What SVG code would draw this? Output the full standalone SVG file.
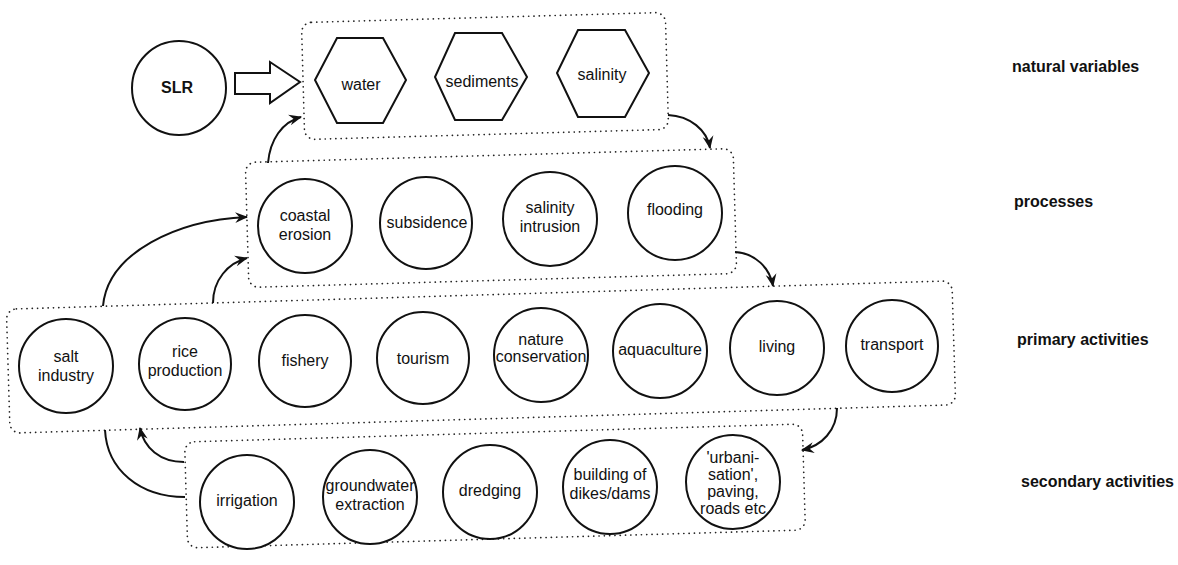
<svg xmlns="http://www.w3.org/2000/svg" width="1178" height="565" viewBox="0 0 1178 565">
<defs>
<marker id="ah" viewBox="0 0 12 12" refX="11" refY="6" markerWidth="13" markerHeight="13" markerUnits="userSpaceOnUse" orient="auto">
<path d="M0,1 L12,6 L0,11 L4,6 z" fill="#111"/>
</marker>
</defs>
<style>
.box{fill:none;stroke:#222;stroke-width:1.7;stroke-dasharray:0.1 5.2;stroke-linecap:round}
.n{fill:#fff;stroke:#111;stroke-width:2}
.t{font-family:"Liberation Sans",Arial,sans-serif;font-size:16px;fill:#111;text-anchor:middle}
.lbl{font-family:"Liberation Sans",Arial,sans-serif;font-size:16px;font-weight:bold;fill:#111}
.c{fill:none;stroke:#111;stroke-width:2}
</style>
<rect width="1178" height="565" fill="#fff"/>
<g id="boxes">
<rect id="box-natural" class="box" x="303" y="17.5" width="364" height="117" rx="10" transform="rotate(-1.6 485 76)"/>
<rect id="box-processes" class="box" x="247" y="155.5" width="488" height="125" rx="10" transform="rotate(-1.64 491 218)"/>
<rect id="box-primary" class="box" x="8" y="295" width="946" height="124" rx="10" transform="rotate(-1.72 481 357)"/>
<rect id="box-secondary" class="box" x="186" y="433" width="618" height="106" rx="10" transform="rotate(-1.67 495 486)"/>
</g>
<g id="connectors">
<polygon class="n" points="235,73 270,73 270,62 300,82 270,103 270,94 235,94"/>
<path class="c" d="M268,163 C270,140 282,122 301,117" marker-end="url(#ah)"/>
<path class="c" d="M668,115 C690,116 707,130 710,148" marker-end="url(#ah)"/>
<path class="c" d="M735,252 C755,253 770,268 773,286" marker-end="url(#ah)"/>
<path class="c" d="M103,306 C108,252 178,220 247,217" marker-end="url(#ah)"/>
<path class="c" d="M213,303 C213,280 228,263 247,258" marker-end="url(#ah)"/>
<path class="c" d="M837,408 C837,430 822,446 802,450" marker-end="url(#ah)"/>
<path class="c" d="M184,462 C160,462 144,448 140,428" marker-end="url(#ah)"/>
<path class="c" d="M185,497 C140,497 107,470 105,430"/>
</g>
<g id="SLR"><circle class="n" cx="179" cy="88" r="47"/><text class="t" x="177" y="93" font-weight="bold">SLR</text></g>
<g id="water"><polygon class="n" points="337,38 383,38 406,80 383,123 337,123 315,80"/><text class="t" x="361" y="90">water</text></g>
<g id="sediments"><polygon class="n" points="455,33 502,33 527,77 502,120 455,120 435,77"/><text class="t" x="482" y="87">sediments</text></g>
<g id="salinity"><polygon class="n" points="578,30 625,30 649,73 625,117 578,117 557,73"/><text class="t" x="602" y="80">salinity</text></g>
<g id="coastal-erosion"><circle class="n" cx="305" cy="226" r="47"/><text class="t" x="305" y="221">coastal</text><text class="t" x="305" y="240">erosion</text></g>
<g id="subsidence"><circle class="n" cx="426" cy="223" r="46"/><text class="t" x="427" y="228">subsidence</text></g>
<g id="salinity-intrusion"><circle class="n" cx="550" cy="219" r="47"/><text class="t" x="550" y="213">salinity</text><text class="t" x="550" y="232">intrusion</text></g>
<g id="flooding"><circle class="n" cx="675" cy="213" r="47"/><text class="t" x="675" y="215">flooding</text></g>
<g id="salt-industry"><circle class="n" cx="66" cy="366" r="47"/><text class="t" x="66" y="362">salt</text><text class="t" x="66" y="381">industry</text></g>
<g id="rice-production"><circle class="n" cx="185" cy="364" r="46"/><text class="t" x="185" y="357">rice</text><text class="t" x="185" y="376">production</text></g>
<g id="fishery"><circle class="n" cx="305" cy="361" r="46"/><text class="t" x="305" y="366">fishery</text></g>
<g id="tourism"><circle class="n" cx="423" cy="358" r="46"/><text class="t" x="423" y="364">tourism</text></g>
<g id="nature-conservation"><circle class="n" cx="541" cy="355" r="47"/><text class="t" x="541" y="345">nature</text><text class="t" x="541" y="362">conservation</text></g>
<g id="aquaculture"><circle class="n" cx="660" cy="351" r="47"/><text class="t" x="660" y="355">aquaculture</text></g>
<g id="living"><circle class="n" cx="777" cy="348" r="47"/><text class="t" x="777" y="352">living</text></g>
<g id="transport"><circle class="n" cx="892" cy="346" r="46"/><text class="t" x="892" y="350">transport</text></g>
<g id="irrigation"><circle class="n" cx="247" cy="502" r="47"/><text class="t" x="247" y="506">irrigation</text></g>
<g id="groundwater-extraction"><circle class="n" cx="370" cy="497" r="47"/><text class="t" x="370" y="491">groundwater</text><text class="t" x="370" y="510">extraction</text></g>
<g id="dredging"><circle class="n" cx="490" cy="492" r="47"/><text class="t" x="490" y="496">dredging</text></g>
<g id="dikes-dams"><circle class="n" cx="610" cy="487" r="47"/><text class="t" x="610" y="480">building of</text><text class="t" x="610" y="499">dikes/dams</text></g>
<g id="urbanisation"><circle class="n" cx="733" cy="482" r="47"/><text class="t" x="733" y="463">'urbani-</text><text class="t" x="733" y="480">sation',</text><text class="t" x="733" y="497">paving,</text><text class="t" x="733" y="514">roads etc</text></g>
<g id="labels">
<text class="lbl" x="1012" y="72">natural variables</text>
<text class="lbl" x="1014" y="207">processes</text>
<text class="lbl" x="1017" y="345">primary activities</text>
<text class="lbl" x="1021" y="487">secondary activities</text>
</g>
</svg>
